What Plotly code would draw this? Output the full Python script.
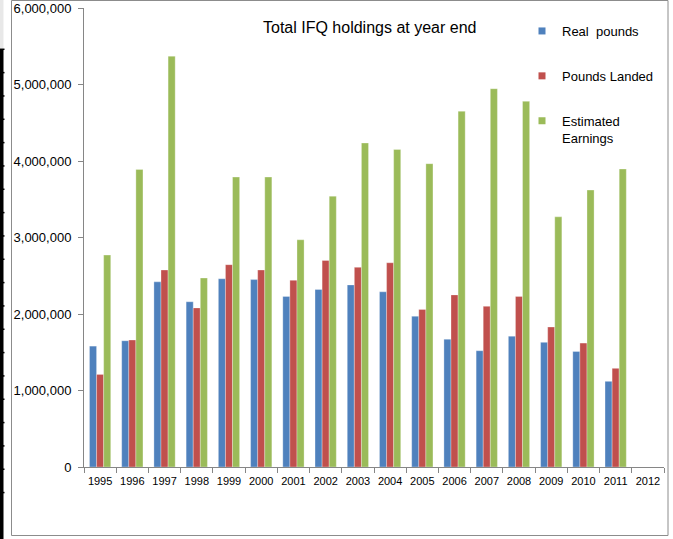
import plotly.graph_objects as go

years = [str(y) for y in range(1995, 2013)]
real_pounds = [1580000, 1650000, 2420000, 2160000, 2460000, 2450000, 2230000, 2320000, 2380000,
               2290000, 1970000, 1670000, 1520000, 1710000, 1630000, 1510000, 1120000, None]
pounds_landed = [1210000, 1660000, 2575000, 2080000, 2645000, 2575000, 2440000, 2700000, 2610000,
                 2670000, 2060000, 2250000, 2100000, 2230000, 1830000, 1620000, 1290000, None]
est_earnings = [2770000, 3890000, 5370000, 2470000, 3790000, 3790000, 2970000, 3540000, 4235000,
                4150000, 3965000, 4650000, 4945000, 4780000, 3270000, 3620000, 3895000, None]

series = [
    ("Real  pounds", real_pounds, "#4F81BD"),
    ("Pounds Landed", pounds_landed, "#C0504D"),
    ("Estimated<br>Earnings", est_earnings, "#9BBB59"),
]

FONT = "Arial, Liberation Sans, sans-serif"

fig = go.Figure()
for name, vals, col in series:
    fig.add_trace(go.Bar(x=years, y=vals, name=name, marker_color=col,
                         marker_line=dict(color="rgba(255,255,255,0.6)", width=0.5),
                         showlegend=False))
# small square legend keys like the spreadsheet legend
for i, (name, vals, col) in enumerate(series):
    fig.add_trace(go.Scatter(x=[None], y=[None], mode="markers", name=name,
                             marker=dict(symbol="square", size=7, color=col),
                             legendgroup=str(i)))

# plot area: l=84, r=9, t=8, b=72 -> 580 x 459 px
W, H, L, R, T, B = 673, 539, 84, 9, 8, 72
pw, ph = W - L - R, H - T - B


def px(x):
    return (x - L) / pw


def py(y):
    return (H - B - y) / ph


shapes = [
    # chart frame
    dict(type="rect", xref="paper", yref="paper", x0=px(11.5), x1=px(668), y0=py(535.5), y1=py(0.5),
         line=dict(color="#8c8c8c", width=1), layer="below"),
    # spreadsheet edge on the left
    dict(type="rect", xref="paper", yref="paper", x0=px(0), x1=px(3.5), y0=py(539), y1=py(49),
         line=dict(width=0), fillcolor="#000"),
    dict(type="rect", xref="paper", yref="paper", x0=px(0), x1=px(3.5), y0=py(49), y1=py(0),
         line=dict(width=0), fillcolor="#e8e8e8"),
]
yy = 49.3
while yy < 515:
    shapes.append(dict(type="line", xref="paper", yref="paper", x0=px(0), x1=px(4.5),
                       y0=py(yy), y1=py(yy), line=dict(color="#000", width=1.5)))
    yy += 23.33

fig.update_layout(
    width=W, height=H,
    margin=dict(l=L, r=R, t=T, b=B),
    barmode="group", bargap=0.34, bargroupgap=0,
    plot_bgcolor="white", paper_bgcolor="white",
    font=dict(family=FONT, color="#000", size=11),
    xaxis=dict(type="category", showline=True, linecolor="#868686", linewidth=1,
               ticks="outside", ticklen=5, tickcolor="#868686", tickson="boundaries",
               showgrid=False, tickfont=dict(size=11), tickangle=0, range=[-0.5, 17.5],
               ticklabelstandoff=4, automargin=False),
    yaxis=dict(range=[0, 6000000], dtick=1000000, tickformat=",d", showline=True,
               linecolor="#868686", linewidth=1, ticks="outside", ticklen=5,
               tickcolor="#868686", showgrid=False, zeroline=False, tickfont=dict(size=13),
               ticklabelstandoff=4, automargin=False),
    legend=dict(x=px(522), y=py(16), xanchor="left", yanchor="top", tracegroupgap=25,
                valign="top", font=dict(size=13), bgcolor="rgba(0,0,0,0)"),
    annotations=[dict(text="Total IFQ holdings at year end", x=px(369), y=py(27), xref="paper",
                      yref="paper", xanchor="center", yanchor="middle", showarrow=False,
                      font=dict(size=16))],
    shapes=shapes,
)

fig.write_html("out.html", config={"displayModeBar": False},
               post_script="document.body.style.margin='0';")
